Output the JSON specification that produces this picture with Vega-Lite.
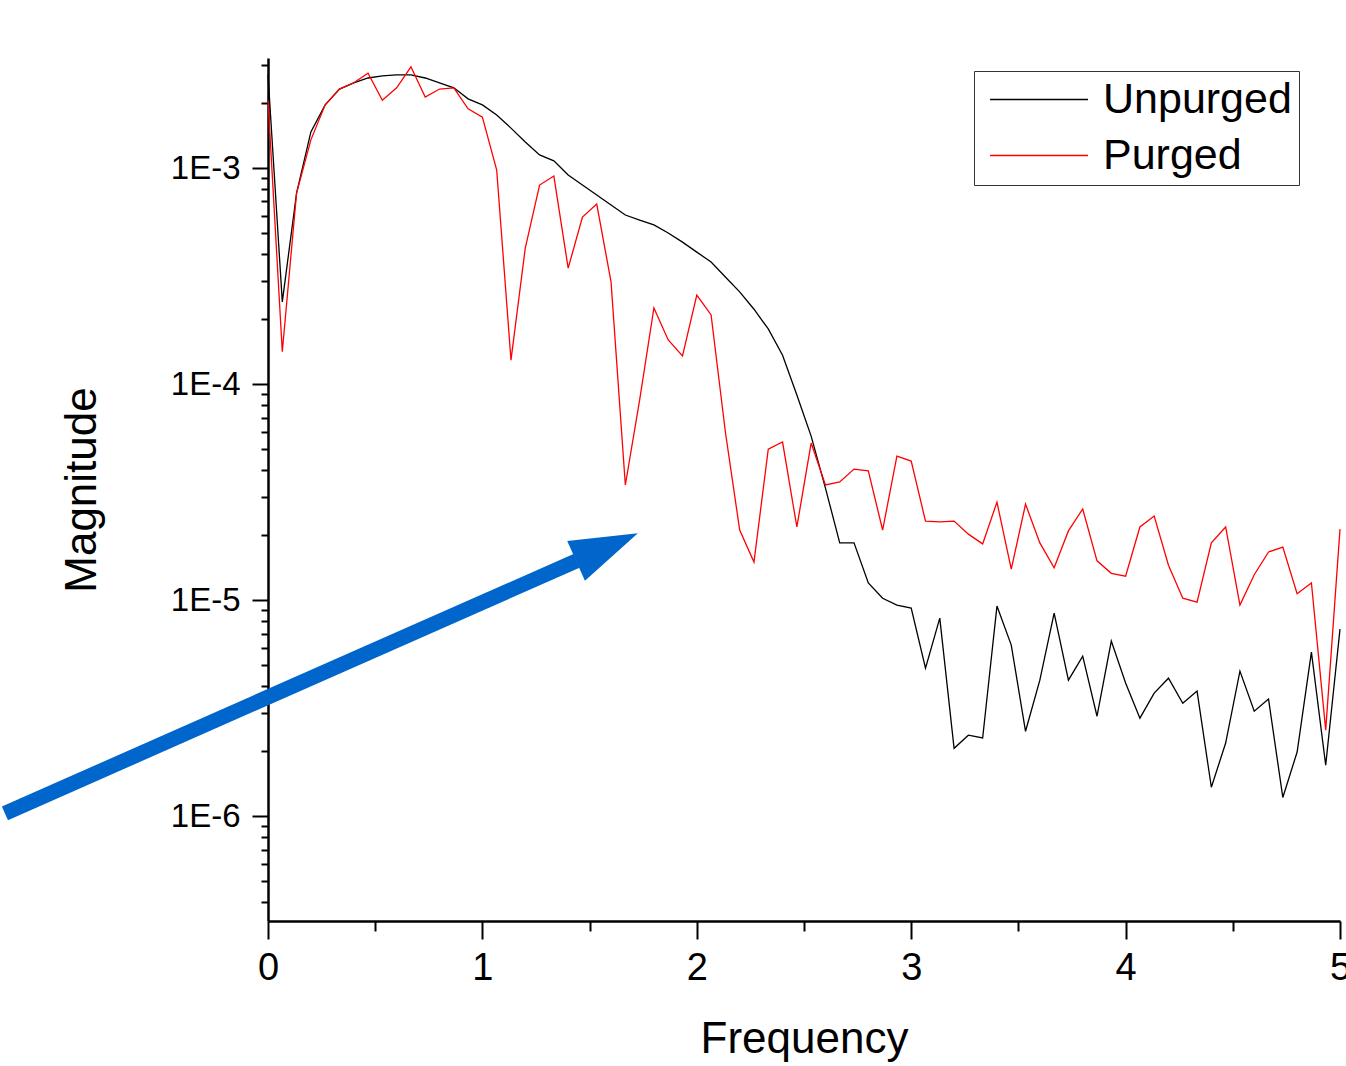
{
  "$schema": "https://vega.github.io/schema/vega-lite/v6.json",
  "width": 1072,
  "height": 863,
  "autosize": {"type": "none"},
  "padding": {"left": 268, "top": 58, "right": 6, "bottom": 145},
  "background": "white",
  "config": {"view": {"stroke": null}, "font": "Liberation Sans"},
  "layer": [
    {
      "data": {"values": [
        {"f": 0, "Unpurged": 2.70e-3, "Purged": 2.06e-3},
        {"f": 0.0667, "Unpurged": 2.40e-4, "Purged": 1.41e-4},
        {"f": 0.1333, "Unpurged": 7.66e-4, "Purged": 7.66e-4},
        {"f": 0.2, "Unpurged": 1.47e-3, "Purged": 1.35e-3},
        {"f": 0.2667, "Unpurged": 1.96e-3, "Purged": 1.96e-3},
        {"f": 0.3333, "Unpurged": 2.32e-3, "Purged": 2.32e-3},
        {"f": 0.4, "Unpurged": 2.48e-3, "Purged": 2.48e-3},
        {"f": 0.4667, "Unpurged": 2.61e-3, "Purged": 2.75e-3},
        {"f": 0.5333, "Unpurged": 2.67e-3, "Purged": 2.06e-3},
        {"f": 0.6, "Unpurged": 2.70e-3, "Purged": 2.35e-3},
        {"f": 0.6667, "Unpurged": 2.70e-3, "Purged": 2.94e-3},
        {"f": 0.7333, "Unpurged": 2.61e-3, "Purged": 2.13e-3},
        {"f": 0.8, "Unpurged": 2.48e-3, "Purged": 2.32e-3},
        {"f": 0.8667, "Unpurged": 2.35e-3, "Purged": 2.35e-3},
        {"f": 0.9333, "Unpurged": 2.09e-3, "Purged": 1.88e-3},
        {"f": 1, "Unpurged": 1.96e-3, "Purged": 1.72e-3},
        {"f": 1.0667, "Unpurged": 1.76e-3, "Purged": 9.79e-4},
        {"f": 1.1333, "Unpurged": 1.53e-3, "Purged": 1.29e-4},
        {"f": 1.2, "Unpurged": 1.32e-3, "Purged": 4.26e-4},
        {"f": 1.2667, "Unpurged": 1.15e-3, "Purged": 8.34e-4},
        {"f": 1.3333, "Unpurged": 1.08e-3, "Purged": 9.18e-4},
        {"f": 1.4, "Unpurged": 9.28e-4, "Purged": 3.44e-4},
        {"f": 1.4667, "Unpurged": 8.34e-4, "Purged": 5.93e-4},
        {"f": 1.5333, "Unpurged": 7.50e-4, "Purged": 6.81e-4},
        {"f": 1.6, "Unpurged": 6.74e-4, "Purged": 2.97e-4},
        {"f": 1.6667, "Unpurged": 6.06e-4, "Purged": 3.41e-5},
        {"f": 1.7333, "Unpurged": 5.74e-4, "Purged": 8.43e-5},
        {"f": 1.8, "Unpurged": 5.45e-4, "Purged": 2.25e-4},
        {"f": 1.8667, "Unpurged": 5.00e-4, "Purged": 1.60e-4},
        {"f": 1.9333, "Unpurged": 4.54e-4, "Purged": 1.35e-4},
        {"f": 2, "Unpurged": 4.08e-4, "Purged": 2.58e-4},
        {"f": 2.0667, "Unpurged": 3.67e-4, "Purged": 2.09e-4},
        {"f": 2.1333, "Unpurged": 3.13e-4, "Purged": 6.00e-5},
        {"f": 2.2, "Unpurged": 2.67e-4, "Purged": 2.11e-5},
        {"f": 2.2667, "Unpurged": 2.22e-4, "Purged": 1.50e-5},
        {"f": 2.3333, "Unpurged": 1.80e-4, "Purged": 5.00e-5},
        {"f": 2.4, "Unpurged": 1.36e-4, "Purged": 5.39e-5},
        {"f": 2.4667, "Unpurged": 8.89e-5, "Purged": 2.18e-5},
        {"f": 2.5333, "Unpurged": 5.74e-5, "Purged": 5.33e-5},
        {"f": 2.6, "Unpurged": 3.30e-5, "Purged": 3.41e-5},
        {"f": 2.6667, "Unpurged": 1.84e-5, "Purged": 3.52e-5},
        {"f": 2.7333, "Unpurged": 1.84e-5, "Purged": 4.04e-5},
        {"f": 2.8, "Unpurged": 1.20e-5, "Purged": 3.96e-5},
        {"f": 2.8667, "Unpurged": 1.02e-5, "Purged": 2.11e-5},
        {"f": 2.9333, "Unpurged": 9.48e-6, "Purged": 4.64e-5},
        {"f": 3, "Unpurged": 9.18e-6, "Purged": 4.40e-5},
        {"f": 3.0667, "Unpurged": 4.84e-6, "Purged": 2.32e-5},
        {"f": 3.1333, "Unpurged": 8.25e-6, "Purged": 2.30e-5},
        {"f": 3.2, "Unpurged": 2.06e-6, "Purged": 2.32e-5},
        {"f": 3.2667, "Unpurged": 2.37e-6, "Purged": 2.02e-5},
        {"f": 3.3333, "Unpurged": 2.30e-6, "Purged": 1.82e-5},
        {"f": 3.4, "Unpurged": 9.38e-6, "Purged": 2.84e-5},
        {"f": 3.4667, "Unpurged": 6.19e-6, "Purged": 1.39e-5},
        {"f": 3.5333, "Unpurged": 2.47e-6, "Purged": 2.78e-5},
        {"f": 3.6, "Unpurged": 4.26e-6, "Purged": 1.84e-5},
        {"f": 3.6667, "Unpurged": 8.71e-6, "Purged": 1.41e-5},
        {"f": 3.7333, "Unpurged": 4.26e-6, "Purged": 2.09e-5},
        {"f": 3.8, "Unpurged": 5.50e-6, "Purged": 2.64e-5},
        {"f": 3.8667, "Unpurged": 2.90e-6, "Purged": 1.52e-5},
        {"f": 3.9333, "Unpurged": 6.46e-6, "Purged": 1.33e-5},
        {"f": 4, "Unpurged": 4.13e-6, "Purged": 1.29e-5},
        {"f": 4.0667, "Unpurged": 2.84e-6, "Purged": 2.18e-5},
        {"f": 4.1333, "Unpurged": 3.71e-6, "Purged": 2.45e-5},
        {"f": 4.2, "Unpurged": 4.35e-6, "Purged": 1.45e-5},
        {"f": 4.2667, "Unpurged": 3.33e-6, "Purged": 1.02e-5},
        {"f": 4.3333, "Unpurged": 3.79e-6, "Purged": 9.79e-6},
        {"f": 4.4, "Unpurged": 1.36e-6, "Purged": 1.84e-5},
        {"f": 4.4667, "Unpurged": 2.18e-6, "Purged": 2.18e-5},
        {"f": 4.5333, "Unpurged": 4.69e-6, "Purged": 9.48e-6},
        {"f": 4.6, "Unpurged": 3.06e-6, "Purged": 1.31e-5},
        {"f": 4.6667, "Unpurged": 3.48e-6, "Purged": 1.67e-5},
        {"f": 4.7333, "Unpurged": 1.22e-6, "Purged": 1.76e-5},
        {"f": 4.8, "Unpurged": 1.98e-6, "Purged": 1.07e-5},
        {"f": 4.8667, "Unpurged": 5.74e-6, "Purged": 1.20e-5},
        {"f": 4.9333, "Unpurged": 1.72e-6, "Purged": 2.50e-6},
        {"f": 5, "Unpurged": 7.34e-6, "Purged": 2.13e-5}
      ]},
      "transform": [{"fold": ["Unpurged", "Purged"], "as": ["series", "mag"]}],
      "mark": {"type": "line", "strokeWidth": 1.3},
      "encoding": {
        "x": {
          "field": "f", "type": "quantitative", "title": "Frequency",
          "scale": {"domain": [0, 5], "nice": false, "zero": false},
          "axis": {
            "title": "Frequency",
            "values": [0, 0.5, 1, 1.5, 2, 2.5, 3, 3.5, 4, 4.5, 5],
            "labelExpr": "datum.value % 1 === 0 ? '' + datum.value : ''",
            "tickSize": {"condition": {"test": "datum.value % 1 !== 0", "value": 10}, "value": 18},
            "tickWidth": 2, "tickColor": "black",
            "domainWidth": 2.5, "domainColor": "black",
            "grid": false, "labelOverlap": false, "labelFlush": false,
            "labelFont": "Liberation Sans", "labelFontSize": 38, "labelColor": "black", "labelPadding": 10,
            "titleFont": "Liberation Sans", "titleFontSize": 44, "titleFontWeight": "normal", "titleColor": "black", "titlePadding": 30
          }
        },
        "y": {
          "field": "mag", "type": "quantitative", "title": "Magnitude",
          "scale": {"type": "log", "domain": [3.27e-7, 3.23e-3], "nice": false},
          "axis": {
            "title": "Magnitude",
            "values": [4e-7, 5e-7, 6e-7, 7e-7, 8e-7, 9e-7, 1e-6, 2e-6, 3e-6, 4e-6, 5e-6, 6e-6, 7e-6, 8e-6, 9e-6, 1e-5, 2e-5, 3e-5, 4e-5, 5e-5, 6e-5, 7e-5, 8e-5, 9e-5, 1e-4, 2e-4, 3e-4, 4e-4, 5e-4, 6e-4, 7e-4, 8e-4, 9e-4, 1e-3, 2e-3, 3e-3],
            "labelExpr": "abs(log(datum.value)/LN10 - round(log(datum.value)/LN10)) < 0.01 ? '1E' + round(log(datum.value)/LN10) : ''",
            "tickSize": {"condition": {"test": "abs(log(datum.value)/LN10 - round(log(datum.value)/LN10)) > 0.01", "value": 7}, "value": 16},
            "tickWidth": 2, "tickColor": "black",
            "domainWidth": 2.5, "domainColor": "black",
            "grid": false, "labelOverlap": false,
            "labelFont": "Liberation Sans", "labelFontSize": 33, "labelColor": "black", "labelPadding": 12,
            "titleFont": "Liberation Sans", "titleFontSize": 44, "titleFontWeight": "normal", "titleColor": "black", "titlePadding": 66
          }
        },
        "color": {
          "field": "series", "type": "nominal",
          "scale": {"domain": ["Unpurged", "Purged"], "range": ["#000000", "#ff0000"]},
          "legend": {
            "orient": "none", "legendX": 706, "legendY": 13,
            "title": null,
            "symbolType": "M-2.55,0H17.45",
            "symbolSize": 96,
            "symbolStrokeWidth": 1.3,
            "labelFont": "Liberation Sans", "labelFontSize": 43, "labelColor": "black",
            "labelOffset": 79,
            "labelLimit": 500,
            "rowPadding": 12,
            "padding": 7,
            "strokeColor": "#333333",
            "fillColor": "white"
          }
        }
      }
    },
    {
      "data": {"values": [{"x": -1.227, "y": 1.03e-6, "x2": 1.439, "y2": 1.52e-5}]},
      "mark": {"type": "rule", "color": "#0066cc", "strokeWidth": 15, "strokeCap": "butt"},
      "encoding": {
        "x": {"field": "x", "type": "quantitative", "title": "Frequency", "scale": {"domain": [0, 5], "nice": false, "zero": false}},
        "y": {"field": "y", "type": "quantitative", "title": "Magnitude", "scale": {"type": "log", "domain": [3.27e-7, 3.23e-3], "nice": false}},
        "x2": {"field": "x2"},
        "y2": {"field": "y2"}
      }
    },
    {
      "data": {"values": [{"x": 1.581, "y": 1.76e-5}]},
      "mark": {"type": "point", "shape": "M-1,-0.643L1,0L-1,0.643Z", "size": 4570, "angle": -24, "filled": true, "color": "#0066cc", "opacity": 1, "strokeWidth": 0},
      "encoding": {
        "x": {"field": "x", "type": "quantitative", "title": "Frequency", "scale": {"domain": [0, 5], "nice": false, "zero": false}},
        "y": {"field": "y", "type": "quantitative", "title": "Magnitude", "scale": {"type": "log", "domain": [3.27e-7, 3.23e-3], "nice": false}}
      }
    }
  ]
}
